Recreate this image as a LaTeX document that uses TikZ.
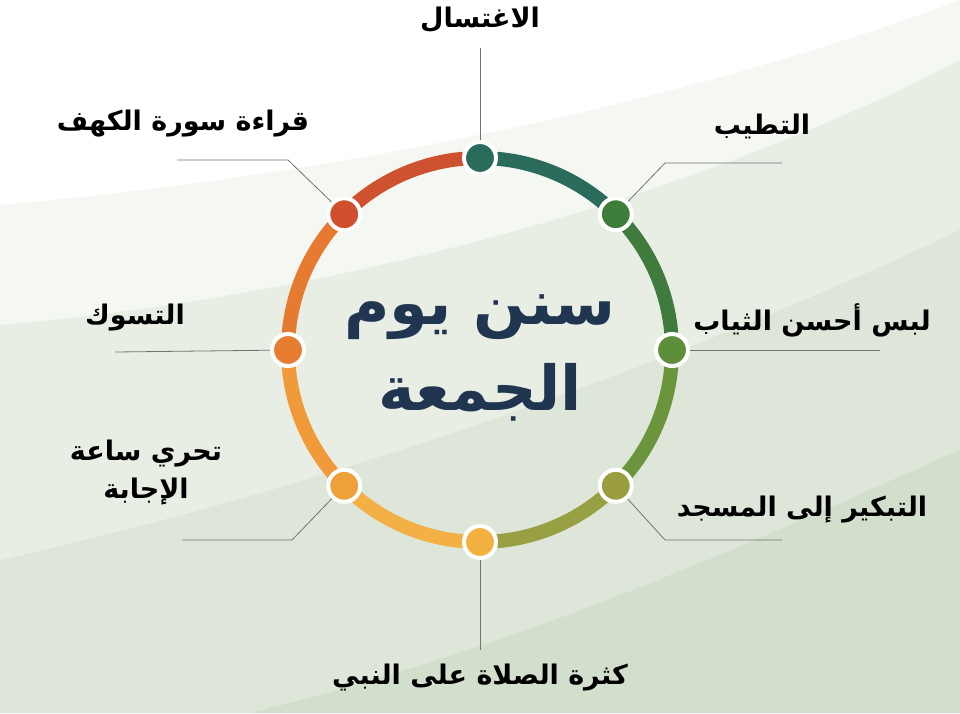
\documentclass[tikz,border=0pt]{standalone}
\usepackage{fontspec}
\newfontfamily\arabicfont[Script=Arabic]{DejaVu Sans}
\TeXXeTstate=1
\usetikzlibrary{positioning,calc}
\definecolor{ink}{HTML}{1F3550}
\definecolor{band}{HTML}{B9CDAE}
\tikzset{
    % dots and ring
    ring dot/.style={circle,fill=#1,draw=white,line width=4pt,minimum size=32pt,inner sep=0pt},
    ring arc/.style={line width=14pt,color=#1},
    leader/.style={draw=black!55,line width=0.8pt},
    label text/.style={font=\arabicfont\bfseries\fontsize{27}{38}\selectfont,text=black,align=center},
    title text/.style={font=\arabicfont\bfseries\fontsize{62}{86}\selectfont,text=ink,align=center},
}
\begin{document}
\begin{tikzpicture}[x=1pt,y=-1pt]
    \useasboundingbox (0,0) rectangle (960,713);
    % background bands
    \fill[white] (0,0) rectangle (960,713);
    \fill[band,opacity=.15] (0,205) .. controls (400,170) and (750,80) .. (960,0) -- (960,713) -- (0,713) -- cycle;
    \fill[band,opacity=.2] (0,325) .. controls (400,290) and (750,170) .. (960,60) -- (960,713) -- (0,713) -- cycle;
    \fill[band,opacity=.22] (0,560) .. controls (400,470) and (750,330) .. (960,230) -- (960,713) -- (0,713) -- cycle;
    \fill[band,opacity=.28] (250,713) .. controls (550,640) and (800,520) .. (960,450) -- (960,713) -- cycle;
    \coordinate (c) at (480,350);
    % arcs between dots
    \foreach \a/\col in {-90/2A6B5C,-45/3E7B3C,0/6A953C,45/98A043,90/F2B045,135/F09A3A,180/E67A30,225/CF5230} {
        \definecolor{segcol}{HTML}{\col}
        \draw[ring arc=segcol] ($(c)+(\a+5:192)$) arc[start angle=\a+5,end angle=\a+40,radius=192];
    }
    % dots
    \foreach \n/\a/\col in {top/-90/2A6B5C,ur/-45/3F7E3A,r/0/5D8E3A,lr/45/9A9E3E,bot/90/F4B040,ll/135/F0A038,l/180/E87D32,ul/225/D04F2C} {
        \definecolor{dotcol}{HTML}{\col}
        \node[ring dot=dotcol] (d\n) at ($(c)+(\a:192)$) {};
    }
    % leader ends
    \coordinate (ktop) at (480,48);
    \coordinate (kur) at (665,163);
    \coordinate (kur2) at (782,163);
    \coordinate (kr) at (880,350);
    \coordinate (klr) at (665,540);
    \coordinate (klr2) at (782,540);
    \coordinate (kbot) at (480,650);
    \coordinate (kll) at (292,540);
    \coordinate (kll2) at (182,540);
    \coordinate (kl) at (115,352);
    \coordinate (kul) at (288,160);
    \coordinate (kul2) at (177,160);
    \draw[leader] (dtop) -- (ktop);
    \draw[leader] (dur) -- (kur) -- (kur2);
    \draw[leader] (dr) -- (kr);
    \draw[leader] (dlr) -- (klr) -- (klr2);
    \draw[leader] (dbot) -- (kbot);
    \draw[leader] (dll) -- (kll) -- (kll2);
    \draw[leader] (dl) -- (kl);
    \draw[leader] (dul) -- (kul) -- (kul2);
    % labels
    \node[label text] (ttop) at (480,20) {\beginR الاغتسال\endR};
    \node[label text] (tur) at (762,126) {\beginR التطيب\endR};
    \node[label text] (tr) at (812,320) {\beginR لبس أحسن الثياب\endR};
    \node[label text] (tlr) at (802,510) {\beginR التبكير إلى المسجد\endR};
    \node[label text] (tbot) at (480,678) {\beginR كثرة الصلاة على النبي\endR};
    \node[label text] (tll) at (146,473) {\beginR تحري ساعة\endR\\\beginR الإجابة\endR};
    \node[label text] (tl) at (135,318) {\beginR التسوك\endR};
    \node[label text] (tul) at (183,124) {\beginR قراءة سورة الكهف\endR};
    \node[title text] (title) at (480,358) {\beginR سنن يوم\endR\\\beginR الجمعة\endR};
\end{tikzpicture}
\end{document}
